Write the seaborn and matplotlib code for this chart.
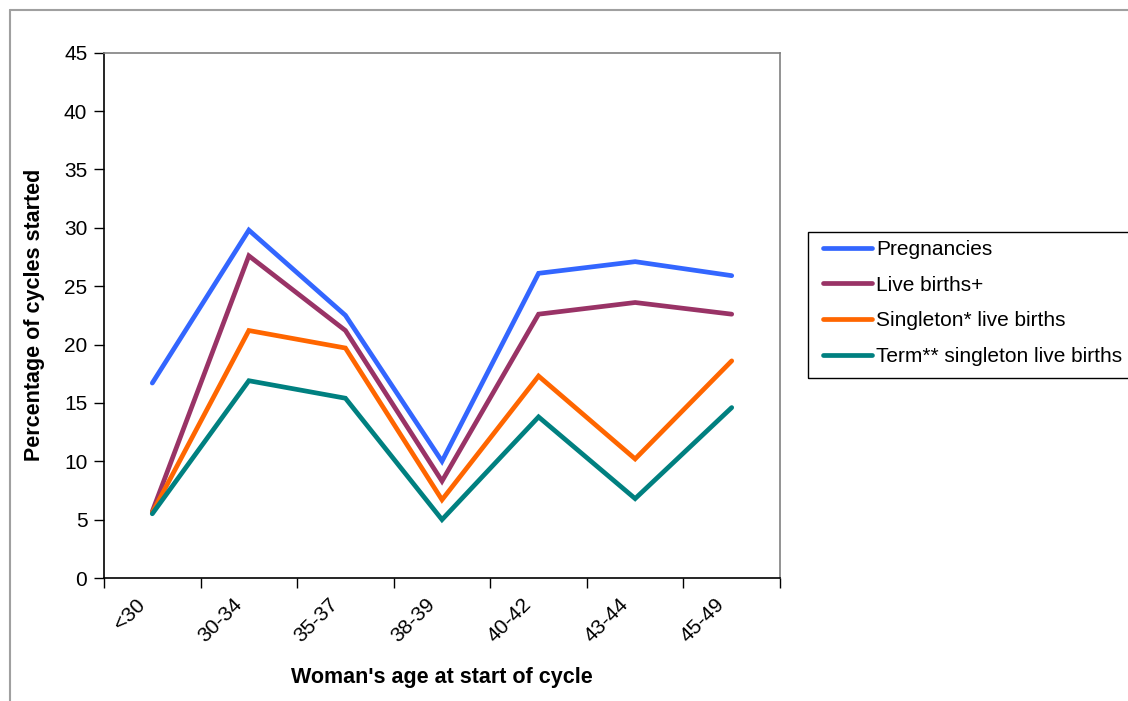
import matplotlib
matplotlib.use("Agg")
import matplotlib.pyplot as plt
from matplotlib.lines import Line2D
from matplotlib.patches import Rectangle
from matplotlib.transforms import ScaledTranslation
import numpy as np
import pandas as pd
import seaborn as sns

age_groups = ["<30", "30-34", "35-37", "38-39", "40-42", "43-44", "45-49"]
pregnancies = [16.7, 29.8, 22.5, 10.0, 26.1, 27.1, 25.9]
live_births = [5.7, 27.6, 21.2, 8.3, 22.6, 23.6, 22.6]
singleton_live_births = [5.6, 21.2, 19.7, 6.7, 17.3, 10.2, 18.6]
term_singleton_live_births = [5.5, 16.9, 15.4, 5.0, 13.8, 6.8, 14.6]

series_names = ["Pregnancies", "Live births+", "Singleton* live births",
                "Term** singleton live births"]
series_values = [pregnancies, live_births, singleton_live_births,
                 term_singleton_live_births]
colors = ["#3366FF", "#993366", "#FF6600", "#008080"]

rows = []
for name, vals in zip(series_names, series_values):
    for i, v in enumerate(vals):
        rows.append({"pos": i + 0.5, "age": age_groups[i], "series": name, "value": v})
df = pd.DataFrame(rows)

sns.set_theme(style="white")
plt.rcParams["font.family"] = ["Liberation Sans", "DejaVu Sans"]
plt.rcParams.update({"text.color": "black", "axes.labelcolor": "black",
                     "xtick.color": "black", "ytick.color": "black"})

W, H = 1128, 701
fig = plt.figure(figsize=(W / 100, H / 100), dpi=100)
ax = fig.add_axes([104 / W, 1 - 578 / H, (780 - 104) / W, (578 - 52.7) / H])

LW = 3.4
sns.lineplot(data=df, x="pos", y="value", hue="series", hue_order=series_names,
             palette=colors, linewidth=LW, ax=ax, sort=False,
             estimator=None, legend=False)
for ln in ax.get_lines():
    ln.set_solid_capstyle("round")
    ln.set_solid_joinstyle("miter")

ax.set_xlim(0, len(age_groups))
ax.set_ylim(0, 45)
ax.set_yticks(np.arange(0, 46, 5))
ax.set_xticks(np.arange(0, len(age_groups) + 1))
ax.set_xticklabels([])
ax.set_xticks(np.arange(len(age_groups)) + 0.5, minor=True)
ax.set_xticklabels(age_groups, minor=True, rotation=45, ha="right", va="center",
                   rotation_mode="anchor", fontsize=15)
ax.tick_params(axis="x", which="minor", length=0, pad=17)
ax.tick_params(axis="x", which="major", length=7, width=1, color="black",
               direction="out", bottom=True)
ax.tick_params(axis="y", length=7, width=1, color="black", direction="out",
               left=True, labelsize=15, pad=5)
shift = ScaledTranslation(-10 / 100, 0, fig.dpi_scale_trans)
for lab in ax.get_xticklabels(minor=True):
    lab.set_transform(lab.get_transform() + shift)

for side in ["left", "bottom"]:
    ax.spines[side].set_color("black")
    ax.spines[side].set_linewidth(1.2)
for side in ["top", "right"]:
    ax.spines[side].set_color("#808080")
    ax.spines[side].set_linewidth(1.2)

ax.set_xlabel("Woman's age at start of cycle", fontsize=15.5, fontweight="bold",
              labelpad=15)
ax.set_ylabel("Percentage of cycles started", fontsize=15.5, fontweight="bold",
              labelpad=14)

# legend box and entries
fig.add_artist(Rectangle((808 / W, 1 - 378 / H), (W + 20 - 808) / W, 146 / H,
                         transform=fig.transFigure, fill=False,
                         edgecolor="black", lw=1.0))
handles = [Line2D([0], [0], color=c, lw=LW, solid_capstyle="round") for c in colors]
leg = fig.legend(handles, series_names, loc="upper left",
                 bbox_to_anchor=(823 / W, 1 - 240 / H),
                 frameon=False, fontsize=15,
                 handlelength=2.35, handletextpad=0.2, labelspacing=0.80,
                 borderpad=0, borderaxespad=0)

# outer chart frame
fig.add_artist(Line2D([10 / W, 1], [1 - 10 / H, 1 - 10 / H],
                      transform=fig.transFigure, color="#a0a0a0", lw=1.5))
fig.add_artist(Line2D([10 / W, 10 / W], [0, 1 - 10 / H],
                      transform=fig.transFigure, color="#a0a0a0", lw=1.5))

fig.savefig("out.png", dpi=100, facecolor="white")
